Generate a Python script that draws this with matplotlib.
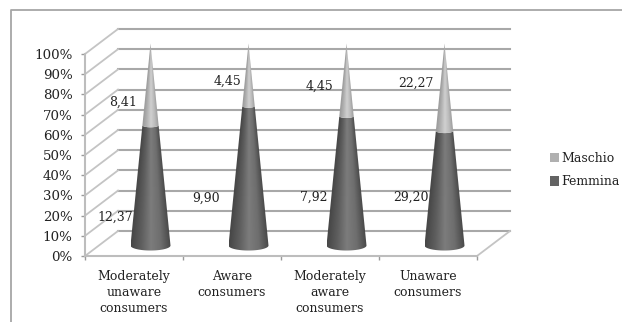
import numpy as np
import matplotlib
matplotlib.use("Agg")
import matplotlib.pyplot as plt
from matplotlib.patches import Patch, Polygon

categories = ["Moderately\nunaware\nconsumers", "Aware\nconsumers",
              "Moderately\naware\nconsumers", "Unaware\nconsumers"]
femmina = [12.37, 9.90, 7.92, 29.20]
maschio = [8.41, 4.45, 4.45, 22.27]
femmina_labels = ["12,37", "9,90", "7,92", "29,20"]
maschio_labels = ["8,41", "4,45", "4,45", "22,27"]
yticks = list(range(0, 101, 10))

W, H = 622, 322
FONT = "DejaVu Serif"
TXT = "#222222"
plt.rcParams["font.family"] = FONT

fig = plt.figure(figsize=(W / 100, H / 100), dpi=100, facecolor="white")
L, R, T, B = 85, 477, 54, 256
ax = fig.add_axes([L / W, 1 - B / H, (R - L) / W, (B - T) / H])
ax.set_xlim(0, 4)
ax.set_ylim(0, 100)
ax.patch.set_visible(False)

# depth of the 3-D box, in data units
DX = 33 / ((R - L) / 4)
DY = 25 / ((B - T) / 100)
GRID = "#a8a8a8"
WALL = "#c4c4c4"

for y in yticks:
    ax.plot([DX, 4 + DX], [y + DY, y + DY], color=GRID, lw=1.5, clip_on=False, zorder=1)
    ax.plot([0, DX], [y, y + DY], color=WALL, lw=1.3, clip_on=False, zorder=1)
ax.plot([4, 4 + DX], [0, DY], color=WALL, lw=1.3, clip_on=False, zorder=1)

for s in ("top", "right"):
    ax.spines[s].set_visible(False)
for s in ("left", "bottom"):
    ax.spines[s].set_color("#bdbdbd")
    ax.spines[s].set_linewidth(1.5)
ax.set_yticks(yticks)
ax.set_yticklabels([f"{v}%" for v in yticks], fontsize=9.6, color=TXT)
ax.set_xticks(range(5))
ax.set_xticklabels([])
ax.tick_params(axis="y", color="#9a9a9a", length=3, width=1, pad=6)
ax.tick_params(axis="x", color="#9a9a9a", length=3, width=1)
for i, c in enumerate(categories):
    ax.text(i + 0.5, -6.8, c, ha="center", va="top", fontsize=9, color=TXT,
            linespacing=1.3, clip_on=False)

# cones
HALF = 20 / ((R - L) / 4)
MINOR = 5 / ((B - T) / 100)
cm_f = matplotlib.colors.LinearSegmentedColormap.from_list(
    "f", ["#474747", "#5e5e5e", "#7c7c7c", "#6e6e6e", "#484848"])
cm_m = matplotlib.colors.LinearSegmentedColormap.from_list(
    "m", ["#9c9c9c", "#b4b4b4", "#d0d0d0", "#bcbcbc", "#9a9a9a"])
BASE = DY / 2 - 1


def section(xc, y0, y1):
    """Outline of a cone slice between two heights on the 0-100 cone."""
    t = np.linspace(np.pi, 2 * np.pi, 40)
    r0, r1 = HALF * (1 - y0 / 100), HALF * (1 - y1 / 100)
    m0, m1 = MINOR * (1 - y0 / 100), MINOR * (1 - y1 / 100)
    lower = np.c_[xc + r0 * np.cos(t), BASE + y0 + m0 * np.sin(t)]
    upper = np.c_[xc + r1 * np.cos(t[::-1]), BASE + y1 + m1 * np.sin(t[::-1])]
    return np.vstack([lower, upper])


def draw_section(xc, y0, y1, cmap):
    yy = np.linspace(y0 - 8, y1, 300)
    xs = np.linspace(-HALF, HALF, 200)
    X, Y = np.meshgrid(xs, yy)
    rad = HALF * np.clip(1 - Y / 100, 0.004, None)
    shade = np.clip((X / rad + 1) / 2, 0, 1)
    im = ax.imshow(shade, extent=[xc - HALF, xc + HALF, y0 - 8 + BASE, y1 + BASE], origin="lower",
                   cmap=cmap, vmin=0, vmax=1, aspect="auto", zorder=3)
    clip = Polygon(section(xc, y0, y1), closed=True, transform=ax.transData,
                   fc="none", ec="none")
    ax.add_patch(clip)
    clip.set_clip_on(False)
    im.set_clip_path(clip)
    im.set_clip_box(fig.bbox)


for i, (f, m) in enumerate(zip(femmina, maschio)):
    share = 100 * f / (f + m)
    xc = i + 0.5 + DX / 2
    draw_section(xc, 0, share, cm_f)
    draw_section(xc, share, 100, cm_m)
ax.set_xlim(0, 4)
ax.set_ylim(0, 100)


def px(x, y):
    return (x - L) / ((R - L) / 4), (B - y) / ((B - T) / 100)


# label anchors, in pixels
maschio_pos = [(123, 102), (228, 81), (320, 86), (416, 83)]
femmina_pos = [(115, 217), (206, 198), (314, 197), (411, 197)]
for lab, p in list(zip(maschio_labels, maschio_pos)) + list(zip(femmina_labels, femmina_pos)):
    ax.text(*px(*p), lab, ha="center", va="center", fontsize=9, color=TXT,
            clip_on=False, zorder=5)

# outer frame, cut off at the right and bottom of the picture
fig.add_artist(plt.Line2D([11 / W, 11 / W, 1], [0, 1 - 10 / H, 1 - 10 / H],
                          color="#a6a6a6", lw=1.3))

handles = [Patch(fc="#b0b0b0", ec="none", label="Maschio"),
           Patch(fc="#636363", ec="none", label="Femmina")]
fig.legend(handles=handles, loc="center left", bbox_to_anchor=(546 / W, 1 - 170 / H),
           frameon=False, fontsize=9, labelcolor=TXT, handlelength=0.75, handleheight=0.75,
           handletextpad=0.2, labelspacing=0.85, borderpad=0.3, borderaxespad=0)

fig.savefig("out.png", dpi=100, facecolor="white")
